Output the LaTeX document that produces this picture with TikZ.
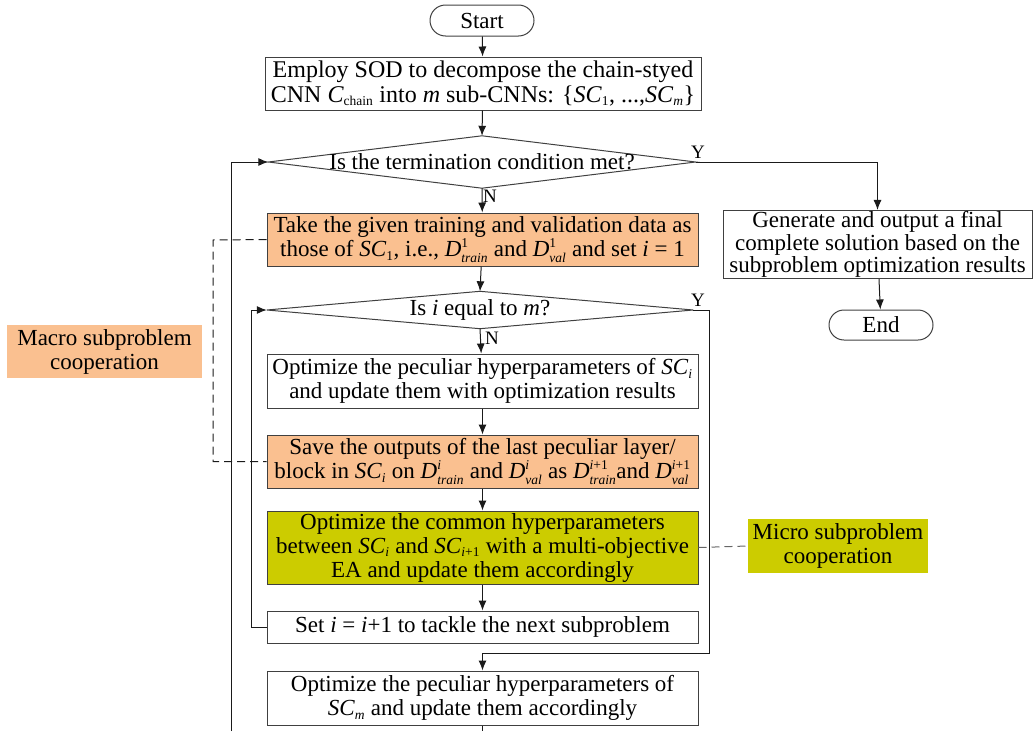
\documentclass[tikz,border=0pt]{standalone}
\usepackage{fontspec}
\usepackage{amsmath}
\setmainfont{Liberation Serif}
\usetikzlibrary{arrows.meta,shapes.misc}
\DeclareMathSizes{23}{23}{13.5}{10}
\DeclareMathSizes{24}{24}{13.5}{10}
\definecolor{orangefill}{HTML}{FAC090}
\definecolor{greenfill}{HTML}{CCCC00}
\definecolor{boxline}{HTML}{404040}
\definecolor{flowline}{HTML}{1A1A1A}
\newcommand\fsz{\fontsize{23}{24}\selectfont}
\newcommand\SC[1]{\textit{SC}$_{\text{#1}}$}
\newcommand\Dset[2]{\textit{D}$^{\text{#1}}_{\text{\textit{#2}}}$}
\begin{document}
\begin{tikzpicture}[x=1pt,y=-1pt,
  box/.style={draw=boxline, line width=1pt, minimum width=431pt, align=center, inner sep=1pt, font=\fsz},
  termbox/.style={draw=boxline, line width=1pt, rounded rectangle, minimum width=106pt, minimum height=31pt, inner sep=1pt, font=\fsz},
  decbox/.style={minimum width=427pt, inner sep=0pt, font=\fsz},
  flow/.style={draw=flowline, line width=1pt, -{Latex[length=10pt,width=8pt]}},
  plain/.style={draw=flowline, line width=1pt},
  dashline/.style={draw=flowline, line width=1pt, dash pattern=on 8pt off 5pt},
  yn/.style={font=\fontsize{19}{19}\selectfont, inner sep=0pt},
  note/.style={align=center, inner sep=1pt, font=\fsz}]
\useasboundingbox (0,0) rectangle (1033,731);

% nodes
\node[termbox] (start) at (482,20.5) {Start};
\node[box, minimum width=436pt, minimum height=53pt, font=\fontsize{24}{24.5}\selectfont] (employ) at (483,83.5)
  {Employ SOD to decompose the chain-styed\\CNN \textit{C}$_{\text{chain}}$ into \textit{m} sub-CNNs: \{\SC{1}, ...,\SC{\textit{m}}\}};
\node[decbox, minimum height=52pt] (term) at (482,162) {};
\draw[draw=boxline, line width=1pt] (term.west) -- (term.north) -- (term.east) -- (term.south) -- cycle;
\node[font=\fsz, inner sep=0pt] (termtxt) at (482,162) {Is the termination condition met?};

\node[box, fill=orangefill, minimum height=53pt] (take) at (482.5,239.5)
  {Take the given training and validation data as\\those of \SC{1}, i.e., \Dset{1}{train} and \Dset{1}{val} and set \textit{i} = 1};

\node[decbox, minimum width=426pt, minimum height=37pt] (ieqm) at (480,310) {};
\draw[draw=boxline, line width=1pt] (ieqm.west) -- (ieqm.north) -- (ieqm.east) -- (ieqm.south) -- cycle;
\node[font=\fsz, inner sep=0pt] (ieqmtxt) at (480,310) {Is \textit{i} equal to \textit{m}?};

\node[box, minimum height=54pt] (optsci) at (482.5,381)
  {Optimize the peculiar hyperparameters of \SC{\textit{i}}\\and update them with optimization results};
\node[box, fill=orangefill, minimum height=53pt] (save) at (482.5,461.5)
  {Save the outputs of the last peculiar layer/\\block in \SC{\textit{i}} on \Dset{\textit{i}}{train} and \Dset{\textit{i}}{val} as \Dset{\textit{i}+1}{train}and \Dset{\textit{i}+1}{val}};
\node[box, fill=greenfill, minimum height=73pt] (common) at (482.5,547.5)
  {Optimize the common hyperparameters\\between \SC{\textit{i}} and \SC{\textit{i}+1} with a multi-objective\\EA and update them accordingly};
\node[box, minimum height=32pt] (setbox) at (482.5,627)
  {Set \textit{i} = \textit{i}+1 to tackle the next subproblem};
\node[box, minimum height=54pt] (optscm) at (482.5,698)
  {Optimize the peculiar hyperparameters of\\\SC{\textit{m}} and update them accordingly};

\node[box, minimum width=309pt, minimum height=65pt, font=\fontsize{23}{22.5}\selectfont] (gen) at (877.5,244.5)
  {Generate and output a final\\complete solution based on the\\subproblem optimization results};
\node[termbox, minimum height=30pt] (endnode) at (881,325) {End};

\node[note, fill=orangefill, minimum width=195pt, minimum height=53pt] (macro) at (104.5,351.5)
  {Macro subproblem\\cooperation};
\node[note, fill=greenfill, minimum width=180pt, minimum height=54pt] (micro) at (838,546)
  {Micro subproblem\\cooperation};

% coordinates
\coordinate (outerbot) at (231,731);
\coordinate (outertop) at (231,162);
\coordinate (innerleft) at (251,627);
\coordinate (ycorner) at (709,310);
\coordinate (ydown) at (709,653);
\coordinate (ymid) at (482.5,653);
\coordinate (botend) at (482.5,731);
\coordinate (dashL) at (213,240);

% connectors
\draw[flow] (start) -- (employ);
\draw[flow] (employ) -- (term.north);
\draw[flow] (term.south) -- (take);
\draw[flow] (term.east) -| (gen.north);
\draw[flow] (gen) -- (endnode);
\draw[flow] (take) -- (ieqm.north);
\draw[flow] (ieqm.south) -- (optsci);
\draw[flow] (optsci) -- (save);
\draw[flow] (save) -- (common);
\draw[flow] (common) -- (setbox);
\draw[flow] (setbox.west) -- (innerleft) |- (ieqm.west);
\draw[flow] (ieqm.east) -- (ycorner) -- (ydown) -- (ymid) -- (optscm.north);
\draw[plain] (optscm.south) -- (botend);
\draw[flow] (outerbot) -- (outertop) -- (term.west);
\draw[dashline] (take.west) -- (dashL) |- (save.west);
\draw[dashline, draw=gray!80!black] (common.east) -- (micro.west);

% labels
\node[yn] (y1) at (698,152) {Y};
\node[yn] (n1) at (490,196) {N};
\node[yn] (y2) at (698,300) {Y};
\node[yn] (n2) at (492,338) {N};
\end{tikzpicture}
\end{document}
